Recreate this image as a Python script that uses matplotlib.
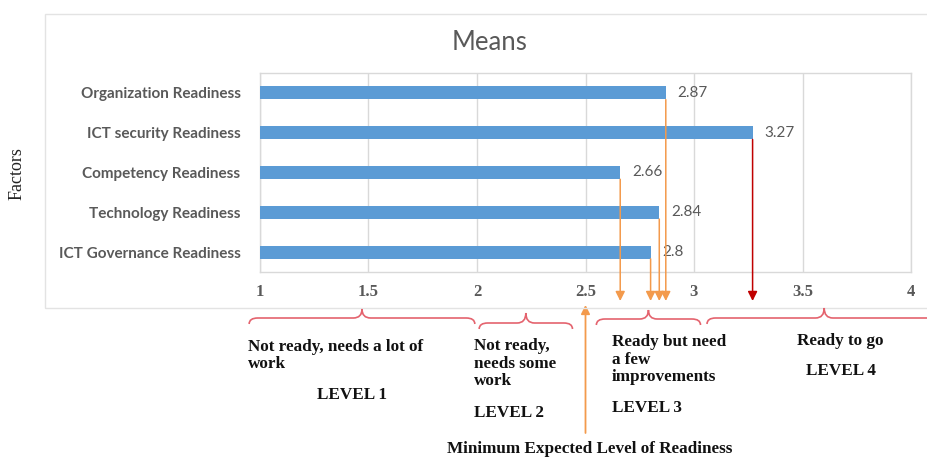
import matplotlib.pyplot as plt
import numpy as np
from matplotlib.patches import Rectangle, PathPatch
from matplotlib.path import Path
from matplotlib.transforms import blended_transform_factory

# readiness factors and their mean scores
factors = ['Organization Readiness', 'ICT security Readiness', 'Competency Readiness',
           'Technology Readiness', 'ICT Governance Readiness']
means = [2.87, 3.27, 2.66, 2.84, 2.8]
x_ticks = [1, 1.5, 2, 2.5, 3, 3.5, 4]
x_tick_labels = ['1', '1.5', '2', '2.5', '3', '3.5', '4']

# readiness levels along the scale: (start, end, description, level label)
level_spans = [(0.95, 1.99), (2.01, 2.44), (2.55, 3.03), (3.06, 4.14)]
level_text = ['Not ready, needs a lot of\nwork', 'Not ready,\nneeds some\nwork',
              'Ready but need\na few\nimprovements', 'Ready to go']
level_names = ['LEVEL 1', 'LEVEL 2', 'LEVEL 3', 'LEVEL 4']
minimum_level = 2.5

W, H = 928, 457
BAR = '#5b9bd5'
GRID = '#d9d9d9'
GREY = '#595959'
ORANGE = '#f39a4c'
DARKRED = '#c00000'
BRACE = '#e4636e'


def fy(py):
    # pixel row measured from the top -> figure fraction
    return 1 - py / H


fig = plt.figure(figsize=(W / 100, H / 100), dpi=100)
fig.patch.set_facecolor('white')

# outer chart frame
fig.patches.append(Rectangle((45 / W, fy(308)), 1.0, fy(14) - fy(308),
                             transform=fig.transFigure, fill=False,
                             edgecolor='#e3e3e3', lw=1.0))

ax = fig.add_axes([260 / W, fy(272), 651 / W, fy(73) - fy(272)])
ypos = np.arange(len(factors))
ax.barh(ypos, means, height=0.33, color=BAR, zorder=3, left=0)
ax.set_xlim(1, 4)
ax.set_ylim(len(factors) - 0.5, -0.5)
ax.set_yticks(ypos)
ax.set_yticklabels(factors, family='Lato', fontweight='bold', fontsize=11, color=GREY)
ax.set_xticks(x_ticks)
ax.set_xticklabels(x_tick_labels, family='Liberation Serif', fontweight='bold',
                   fontsize=12, color=GREY)
ax.tick_params(length=0)
ax.tick_params(axis='x', pad=9)
ax.tick_params(axis='y', pad=14)
ax.grid(axis='x', color=GRID, lw=1, zorder=0)
for s in ax.spines.values():
    s.set_color(GRID)
    s.set_linewidth(1)

for i, v in enumerate(means):
    ax.text(v + 0.055, i, f'{v:g}', va='center', ha='left', family='Lato',
            fontsize=11, color=GREY, zorder=4)

fig.text(490 / W, fy(42), 'Means', ha='center', va='center', family='Lato',
         fontsize=18.5, color=GREY)
fig.text(17 / W, fy(174), 'Factors', ha='center', va='center', rotation=90,
         family='Liberation Serif', fontsize=13, color='#222222')

below = blended_transform_factory(ax.transData, fig.transFigure)

# arrows from each bar end down onto the scale
for i, v in enumerate(means):
    col = DARKRED if v == max(means) else ORANGE
    ax.annotate('', xy=(v, fy(301)), xycoords=below,
                xytext=(v, i + 0.17), textcoords='data',
                arrowprops=dict(arrowstyle='-|>', color=col, lw=1.1,
                                mutation_scale=14, shrinkA=0, shrinkB=0),
                annotation_clip=False, zorder=5)

# minimum expected level marker
ax.annotate('', xy=(minimum_level, fy(305)), xycoords=below,
            xytext=(minimum_level, fy(433)), textcoords=below,
            arrowprops=dict(arrowstyle='-|>', color=ORANGE, lw=1.3,
                            mutation_scale=13, shrinkA=0, shrinkB=0),
            annotation_clip=False)


def brace(x0, x1, base, cusp, tail):
    # curly brace opening downwards, tip pointing up at the middle
    r = 0.04
    xm = (x0 + x1) / 2
    verts = [(x0, fy(tail)), (x0, fy(base)), (x0 + r, fy(base)),
             (xm - r, fy(base)),
             (xm, fy(base)), (xm, fy(cusp)),
             (xm, fy(base)), (xm + r, fy(base)),
             (x1 - r, fy(base)),
             (x1, fy(base)), (x1, fy(tail))]
    codes = [Path.MOVETO, Path.CURVE3, Path.CURVE3, Path.LINETO,
             Path.CURVE3, Path.CURVE3, Path.CURVE3, Path.CURVE3,
             Path.LINETO, Path.CURVE3, Path.CURVE3]
    p = PathPatch(Path(verts, codes), transform=below, fill=False,
                  edgecolor=BRACE, lw=1.2, clip_on=False)
    fig.patches.append(p)


brace_rows = [(318, 309, 324), (323, 313, 329), (319, 310, 325), (318, 308, 324)]
for (x0, x1), (b, c, t) in zip(level_spans, brace_rows):
    brace(x0, x1, b, c, t)

bold = dict(family='Liberation Serif', fontweight='bold', fontsize=12.3,
            color='#111111')


def lines(x, y0, step, text, ha='left'):
    # stack the text line by line with a fixed pixel step
    for k, ln in enumerate(text.split('\n')):
        fig.text(x / W, fy(y0 + k * step), ln, ha=ha, va='center', **bold)


lines(248, 347, 17, level_text[0])
lines(352, 395, 0, level_names[0], ha='center')
lines(474, 346, 17.5, level_text[1])
lines(474, 413, 0, level_names[1])
lines(612, 342, 17.5, level_text[2])
lines(612, 408, 0, level_names[2])
lines(797, 341, 0, level_text[3])
lines(806, 371, 0, level_names[3])
lines(590, 449, 0, 'Minimum Expected Level of Readiness', ha='center')

fig.savefig('out.png', dpi=100, facecolor='white')
